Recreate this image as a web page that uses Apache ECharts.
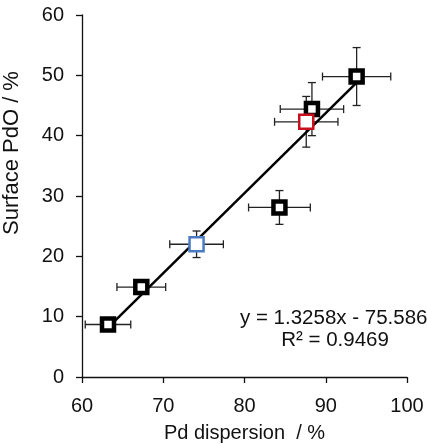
<!DOCTYPE html>
<html>
<head>
<meta charset="utf-8">
<script src="https://cdn.jsdelivr.net/npm/echarts@6/dist/echarts.min.js"></script>
<style>
  html, body { margin: 0; padding: 0; background: #fff; }
  #chart { width: 427px; height: 445px; }
</style>
</head>
<body>
<div id="chart"></div>
<script>
// Pd dispersion vs surface PdO, with error bars and linear fit

// x = Pd dispersion (%), y = surface PdO (%)
const blackPoints = [[63.2, 8.7], [67.3, 14.9], [84.3, 28.1], [88.3, 44.4], [93.8, 49.8]];
const blackXErr = [2.8, 3.0, 3.8, 3.9, 4.2];
const blackYErr = [0.6, 0.9, 2.8, 4.4, 4.8];

const redPoints = [[87.6, 42.3]];
const redXErr = [3.9];
const redYErr = [4.2];

const bluePoints = [[74.1, 22.0]];
const blueXErr = [3.3];
const blueYErr = [2.2];

// fit line end points
const fitLine = [[63.2, 8.2], [93.8, 48.8]];

const xTicks = [60, 70, 80, 90, 100];
const yTicks = [0, 10, 20, 30, 40, 50, 60];

const fontFamily = '"Liberation Sans", Arial, Helvetica, sans-serif';

// build rows for the error bar series
function errRows(points, xe, ye) {
    return points.map(function (p, i) {
        return [p[0], p[1], xe[i], ye[i]];
    });
}
const errData = []
    .concat(errRows(blackPoints, blackXErr, blackYErr))
    .concat(errRows(redPoints, redXErr, redYErr))
    .concat(errRows(bluePoints, blueXErr, blueYErr));

function renderErrorBar(params, api) {
    const x = api.value(0), y = api.value(1);
    const dx = api.value(2), dy = api.value(3);
    const left = api.coord([x - dx, y]);
    const right = api.coord([x + dx, y]);
    const top = api.coord([x, y + dy]);
    const bottom = api.coord([x, y - dy]);
    const cap = 4;
    const style = { stroke: '#222', lineWidth: 1.3, fill: null };
    return {
        type: 'group',
        children: [
            { type: 'line', shape: { x1: left[0], y1: left[1], x2: right[0], y2: right[1] }, style: style },
            { type: 'line', shape: { x1: left[0], y1: left[1] - cap, x2: left[0], y2: left[1] + cap }, style: style },
            { type: 'line', shape: { x1: right[0], y1: right[1] - cap, x2: right[0], y2: right[1] + cap }, style: style },
            { type: 'line', shape: { x1: top[0], y1: top[1], x2: bottom[0], y2: bottom[1] }, style: style },
            { type: 'line', shape: { x1: top[0] - cap, y1: top[1], x2: top[0] + cap, y2: top[1] }, style: style },
            { type: 'line', shape: { x1: bottom[0] - cap, y1: bottom[1], x2: bottom[0] + cap, y2: bottom[1] }, style: style }
        ]
    };
}

const chart = echarts.init(document.getElementById('chart'), null, { renderer: 'canvas' });

const axisCommon = {
    axisLine: { show: true, lineStyle: { color: '#111', width: 1.3 } },
    axisTick: { show: true, inside: false, length: 6, lineStyle: { color: '#111', width: 1.3 } },
    splitLine: { show: false },
    axisLabel: { color: '#111', fontSize: 20, fontFamily: fontFamily }
};

const option = {
    animation: false,
    backgroundColor: '#fff',
    grid: { left: 82, right: 20, top: 15, bottom: 68, containLabel: false, outerBoundsMode: 'none' },
    xAxis: Object.assign({}, axisCommon, {
        type: 'value',
        min: xTicks[0],
        max: xTicks[xTicks.length - 1],
        interval: 10,
        name: 'Pd dispersion  / %',
        nameLocation: 'middle',
        nameGap: 46,
        nameTextStyle: { color: '#111', fontSize: 20, fontFamily: fontFamily },
        axisLabel: Object.assign({}, axisCommon.axisLabel, { margin: 19 })
    }),
    yAxis: Object.assign({}, axisCommon, {
        type: 'value',
        min: yTicks[0],
        max: yTicks[yTicks.length - 1],
        interval: 10,
        axisLabel: Object.assign({}, axisCommon.axisLabel, { margin: 18 })
    }),
    graphic: [
        {
            type: 'text',
            x: 12, y: 153,
            rotation: Math.PI / 2,
            style: {
                text: 'Surface PdO / %',
                fill: '#111',
                font: '22px ' + fontFamily,
                align: 'center',
                verticalAlign: 'middle'
            }
        },
        {
            type: 'text',
            x: 240, y: 318,
            style: {
                text: 'y = 1.3258x - 75.586',
                fill: '#111',
                font: '20.5px ' + fontFamily,
                align: 'left',
                verticalAlign: 'middle'
            }
        },
        {
            type: 'text',
            x: 335, y: 340,
            style: {
                text: 'R² = 0.9469',
                fill: '#111',
                font: '20.5px ' + fontFamily,
                align: 'center',
                verticalAlign: 'middle'
            }
        }
    ],
    series: [
        {
            type: 'custom',
            renderItem: renderErrorBar,
            data: errData,
            z: 1
        },
        {
            type: 'line',
            data: fitLine,
            symbol: 'none',
            lineStyle: { color: '#000', width: 2.5 },
            z: 2
        },
        {
            type: 'scatter',
            data: blackPoints,
            symbol: 'rect',
            symbolSize: 12,
            itemStyle: { color: '#fff', borderColor: '#000', borderWidth: 4.5, opacity: 1 },
            z: 3
        },
        {
            type: 'scatter',
            data: redPoints,
            symbol: 'rect',
            symbolSize: 14,
            itemStyle: { color: '#fff', borderColor: '#c8101e', borderWidth: 2.5, opacity: 1 },
            z: 3
        },
        {
            type: 'scatter',
            data: bluePoints,
            symbol: 'rect',
            symbolSize: 14,
            itemStyle: { color: '#fff', borderColor: '#4a7cc4', borderWidth: 2.5, opacity: 1 },
            z: 3
        }
    ]
};

chart.setOption(option);
</script>
</body>
</html>
